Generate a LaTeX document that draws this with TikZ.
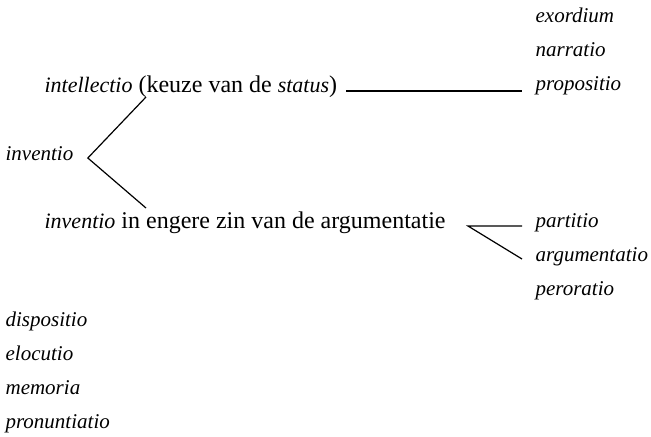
\documentclass[tikz,border=0pt]{standalone}
\usepackage{fontspec}
\setmainfont{Liberation Serif}
\newcommand\lat[1]{{\fontsize{11}{13}\selectfont\itshape #1}}
\begin{document}
\begin{tikzpicture}[x=0.5pt,y=-0.5pt,font=\fontsize{12}{13}\selectfont,line width=0.6pt,
        term/.style={anchor=base west,inner sep=0pt,font=\fontsize{10.5}{13}\selectfont\itshape},
        line/.style={anchor=base west,inner sep=0pt}]
                \useasboundingbox (0,0) rectangle (651,436);
                %% Left column
                \node[term] (inv) at (5,160) {inventio};
                \node[line] (intel) at (44,92) {\lat{intellectio} (keuze van de \lat{status})};
                \node[line] (narrow) at (44,228) {\lat{inventio} in engere zin van de argumentatie};
                \foreach \t [count=\i] in {dispositio,elocutio,memoria,pronuntiatio}
                    \node[term] (rest\i) at (5,292+34*\i) {\t};
                %% Right column
                \foreach \t [count=\i] in {exordium,narratio,propositio}
                    \node[term] (pre\i) at (535,-12+34*\i) {\t};
                \foreach \t [count=\i] in {partitio,argumentatio,peroratio}
                    \node[term] (post\i) at (535,193+34*\i) {\t};
                %% Brackets
                \coordinate (fork) at ([shift={(14,-2)}]inv.base east);
                \draw ([shift={(102,5)}]intel.base west) -- (fork) -- ([shift={(102,-20)}]narrow.base west);
                \draw ([shift={(-189,1)}]pre3.base west) -- ([shift={(-13,1)}]pre3.base west);
                \coordinate (split) at ([shift={(-67,-1)}]post1.base west);
                \draw ([shift={(-13,-1)}]post1.base west) -- (split) -- ([shift={(-13,-2)}]post2.base west);
            \end{tikzpicture}
\end{document}
